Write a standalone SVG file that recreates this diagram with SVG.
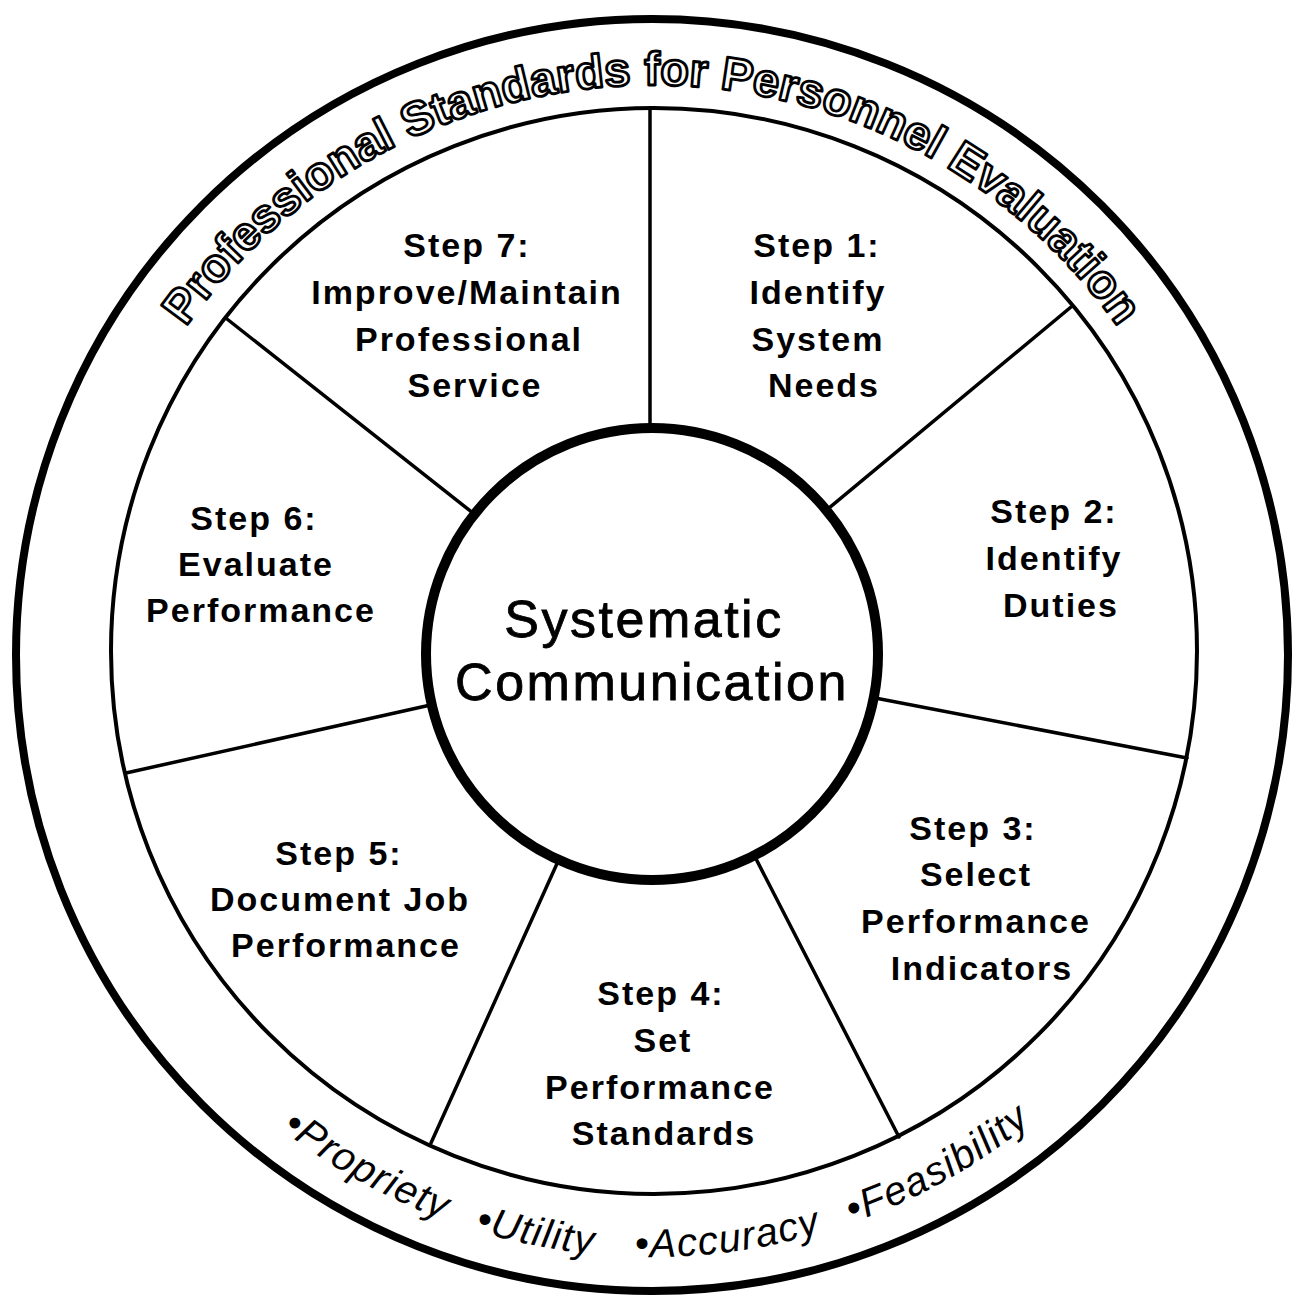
<svg xmlns="http://www.w3.org/2000/svg" width="1295" height="1298" viewBox="0 0 1295 1298">
  <style>
    .ring { fill: none; stroke: #000; }
    .spoke { stroke: #000; stroke-width: 3.5; stroke-linecap: round; }
    .step { font-family: "Liberation Sans", Arial, sans-serif; font-weight: bold; font-size: 34px; letter-spacing: 2px; fill: #000; text-anchor: middle; }
    .center { font-family: "Liberation Sans", Arial, sans-serif; font-size: 52px; letter-spacing: 2.5px; fill: #000; stroke: #000; stroke-width: 0.8; text-anchor: middle; }
    .title { font-family: "Liberation Sans", Arial, sans-serif; font-weight: bold; font-size: 47px; fill: #fff; stroke: #000; stroke-width: 2.8; stroke-linejoin: round; }
    .std { font-family: "Liberation Sans", Arial, sans-serif; font-style: italic; font-size: 40px; letter-spacing: 1.3px; fill: #000; }
  </style>
  <defs>
    <path id="topArc" d="M 82 655 A 570 570 0 0 1 1222 655"/>
    <path id="bottomArc" d="M 50 655 A 602 602 0 0 0 1254 655"/>
  </defs>
  <rect width="1295" height="1298" fill="#fff"/>

  <g id="standards-ring">
    <circle class="ring" cx="652" cy="655" r="636" stroke-width="8"/>
    <text class="title"><textPath href="#topArc" startOffset="50%" text-anchor="middle">Professional Standards for Personnel Evaluation</textPath></text>
    <text class="std"><textPath href="#bottomArc" startOffset="546">•Propriety</textPath></text>
    <text class="std"><textPath href="#bottomArc" startOffset="765">•Utility</textPath></text>
    <text class="std"><textPath href="#bottomArc" startOffset="928">•Accuracy</textPath></text>
    <text class="std"><textPath href="#bottomArc" startOffset="1149">•Feasibility</textPath></text>
  </g>

  <g id="step-ring">
    <circle class="ring" cx="654" cy="651" r="543" stroke-width="4"/>
  </g>

  <g id="connectors">
    <line class="spoke" x1="650" y1="433" x2="650" y2="108"/>
    <line class="spoke" x1="823" y1="513" x2="1071" y2="307"/>
    <line class="spoke" x1="870" y1="697" x2="1187" y2="758"/>
    <line class="spoke" x1="753" y1="853" x2="899" y2="1137"/>
    <line class="spoke" x1="560" y1="857" x2="431" y2="1143"/>
    <line class="spoke" x1="435" y1="704" x2="126" y2="773"/>
    <line class="spoke" x1="478" y1="517" x2="227" y2="319"/>
  </g>

  <g id="center-node">
    <circle cx="652" cy="654" r="226" fill="#fff" stroke="#000" stroke-width="10"/>
    <text class="center" x="644" y="637">Systematic</text>
    <text class="center" x="652" y="700">Communication</text>
  </g>

  <g id="step1">
    <text class="step" x="817" y="257">Step 1:</text>
    <text class="step" x="818" y="304">Identify</text>
    <text class="step" x="818" y="351">System</text>
    <text class="step" x="824" y="397">Needs</text>
  </g>
  <g id="step2">
    <text class="step" x="1054" y="523">Step 2:</text>
    <text class="step" x="1054" y="570">Identify</text>
    <text class="step" x="1061" y="617">Duties</text>
  </g>
  <g id="step3">
    <text class="step" x="973" y="840">Step 3:</text>
    <text class="step" x="976" y="886">Select</text>
    <text class="step" x="976" y="933">Performance</text>
    <text class="step" x="982" y="980">Indicators</text>
  </g>
  <g id="step4">
    <text class="step" x="661" y="1005">Step 4:</text>
    <text class="step" x="663" y="1052">Set</text>
    <text class="step" x="660" y="1099">Performance</text>
    <text class="step" x="664" y="1145">Standards</text>
  </g>
  <g id="step5">
    <text class="step" x="339" y="865">Step 5:</text>
    <text class="step" x="340" y="911">Document Job</text>
    <text class="step" x="346" y="957">Performance</text>
  </g>
  <g id="step6">
    <text class="step" x="254" y="530">Step 6:</text>
    <text class="step" x="256" y="576">Evaluate</text>
    <text class="step" x="261" y="622">Performance</text>
  </g>
  <g id="step7">
    <text class="step" x="467" y="257">Step 7:</text>
    <text class="step" x="467" y="304">Improve/Maintain</text>
    <text class="step" x="469" y="351">Professional</text>
    <text class="step" x="475" y="397">Service</text>
  </g>
</svg>
